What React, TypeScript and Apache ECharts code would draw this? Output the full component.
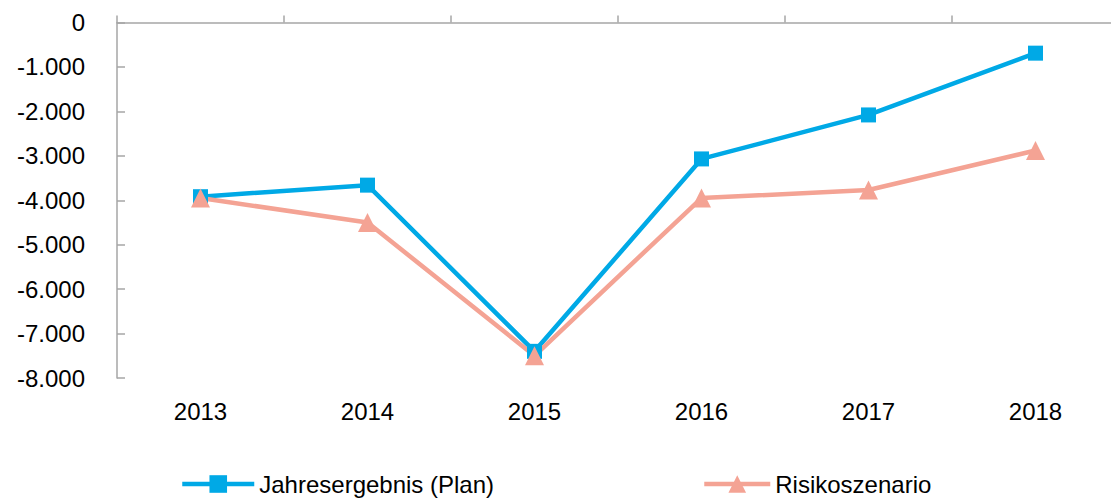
import React, { useEffect, useRef } from "react";
import * as echarts from "echarts";

const categories = ["2013", "2014", "2015", "2016", "2017", "2018"];
const planValues = [-3920, -3660, -7400, -3070, -2080, -690];
const riskValues = [-3950, -4500, -7500, -3950, -3770, -2880];
const seriesNames = ["Jahresergebnis (Plan)", "Risikoszenario"];
const yMin = -8000;
const yMax = 0;
const yStep = 1000;

const fmt = (v: number) => {
  const s = String(Math.abs(v)).replace(/\B(?=(\d{3})+(?!\d))/g, ".");
  return v < 0 ? "-" + s : s;
};

export default function App() {
  const ref = useRef<HTMLDivElement>(null);
  useEffect(() => {
    if (!ref.current) return;
    const chart = echarts.init(ref.current, null, { renderer: "svg" });
    const font = "Liberation Sans, Arial, sans-serif";
    const axisColor = "#A6A6A6";
    const legendText = { fontSize: 24, lineHeight: 24, color: "#000", fontFamily: font };
    chart.setOption({
      animation: false,
      backgroundColor: "#ffffff",
      textStyle: { fontFamily: font },
      grid: { left: 117, top: 22.5, width: 1002, height: 355.5, outerBoundsMode: "none", containLabel: false },
      legend: [
        {
          data: [seriesNames[0]],
          left: 180,
          top: 472,
          padding: 0,
          itemWidth: 72,
          itemHeight: 22,
          itemGap: 0,
          lineStyle: { width: 4.5 },
          textStyle: legendText,
        },
        {
          data: [seriesNames[1]],
          left: 702,
          top: 472,
          padding: 0,
          itemWidth: 66,
          itemHeight: 22,
          itemGap: 0,
          lineStyle: { width: 4.5 },
          textStyle: legendText,
        },
      ],
      xAxis: [
        {
          type: "category",
          data: categories,
          position: "top",
          boundaryGap: true,
          axisLine: { show: true, lineStyle: { color: axisColor, width: 1.5 } },
          axisTick: { show: true, inside: false, length: 7, lineStyle: { color: axisColor, width: 1.5 } },
          axisLabel: { show: false },
          splitLine: { show: false },
        },
        {
          type: "category",
          data: categories,
          position: "bottom",
          boundaryGap: true,
          axisLine: { show: false },
          axisTick: { show: false },
          axisLabel: { show: true, fontSize: 24, color: "#000", margin: 21, fontFamily: font },
          splitLine: { show: false },
        },
      ],
      yAxis: {
        type: "value",
        min: yMin,
        max: yMax,
        interval: yStep,
        axisLine: { show: true, lineStyle: { color: axisColor, width: 1.5 } },
        axisTick: { show: true, inside: true, length: 8, lineStyle: { color: axisColor, width: 1.5 } },
        axisLabel: { fontSize: 24, color: "#000", margin: 32, formatter: fmt, fontFamily: font },
        splitLine: { show: false },
      },
      series: [
        {
          name: seriesNames[0],
          type: "line",
          xAxisIndex: 0,
          data: planValues,
          symbol: "rect",
          symbolSize: 15,
          itemStyle: { color: "#00A9E6", borderRadius: 2 },
          lineStyle: { color: "#00A9E6", width: 4.5 },
        },
        {
          name: seriesNames[1],
          type: "line",
          xAxisIndex: 0,
          data: riskValues,
          symbol: "triangle",
          symbolSize: 19,
          itemStyle: { color: "#F4A394" },
          lineStyle: { color: "#F4A394", width: 4.5 },
        },
      ],
    });
    return () => chart.dispose();
  }, []);
  return (
    <div
      ref={ref}
      style={{ position: "absolute", left: 0, top: 0, width: 1111, height: 502 }}
    />
  );
}
